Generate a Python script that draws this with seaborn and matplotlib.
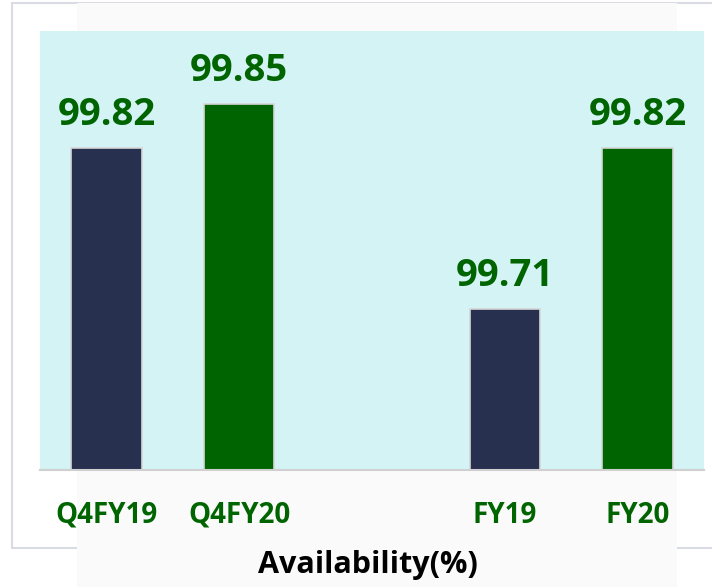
import matplotlib
matplotlib.use("Agg")
import matplotlib.pyplot as plt
import seaborn as sns
import pandas as pd
from matplotlib.patches import Rectangle

# Data
categories = ["Q4FY19", "Q4FY20", " ", "FY19", "FY20"]
values = [99.82, 99.85, None, 99.71, 99.82]
bar_colors = ["#283050", "#006400", "#ffffff", "#283050", "#006400"]

df = pd.DataFrame({"period": categories, "availability": values})

sns.set_theme(style="white")
plt.rcParams["font.family"] = ["Open Sans", "DejaVu Sans"]

fig = plt.figure(figsize=(7.12, 5.87), dpi=100)
# outer frame and light band behind the chart
fig.patches.append(Rectangle((12 / 712, 1 - 548 / 587), 1.0, (548 - 3) / 587,
                             transform=fig.transFigure, facecolor="white",
                             edgecolor="#d9dde3", linewidth=1.5, zorder=-10))
fig.patches.append(Rectangle((77 / 712, 0), 600 / 712, 1 - 3 / 587,
                             transform=fig.transFigure, facecolor="#fafafa",
                             edgecolor="none", zorder=-9))

ax = fig.add_axes([40 / 712, 1 - 470 / 587, 664 / 712, (470 - 31) / 587])
ax.set_zorder(1)
ax.set_facecolor("#d3f3f5")

sns.barplot(data=df, x="period", y="availability", order=categories,
            palette=bar_colors, hue="period", legend=False, width=0.53,
            saturation=1, edgecolor="#d6d6d6", linewidth=1.2, ax=ax)

ax.set_ylim(99.6, 99.9)
ax.set_xlim(-0.5, 4.5)
ax.set_yticks([])
for s in ["top", "left", "right"]:
    ax.spines[s].set_visible(False)
ax.spines["bottom"].set_color("#d0d0d0")
ax.spines["bottom"].set_linewidth(1.5)

for i, v in enumerate(values):
    if v is None:
        continue
    ax.annotate(f"{v:.2f}", (i, v), xytext=(0, 16.5), textcoords="offset points",
                ha="center", va="baseline", fontsize=27.5, fontweight="bold",
                color="#006400")

ax.tick_params(axis="x", length=0, pad=22)
ax.set_xticks(range(len(categories)))
ax.set_xticklabels(categories, fontsize=20, fontweight="bold", color="#006400")
ax.set_xlabel("")
ax.set_ylabel("")

fig.text(368 / 712, 1 - 565 / 587, "Availability(%)", ha="center", va="center",
         fontsize=22, fontweight="bold", color="black")

fig.savefig("out.png", dpi=100)
